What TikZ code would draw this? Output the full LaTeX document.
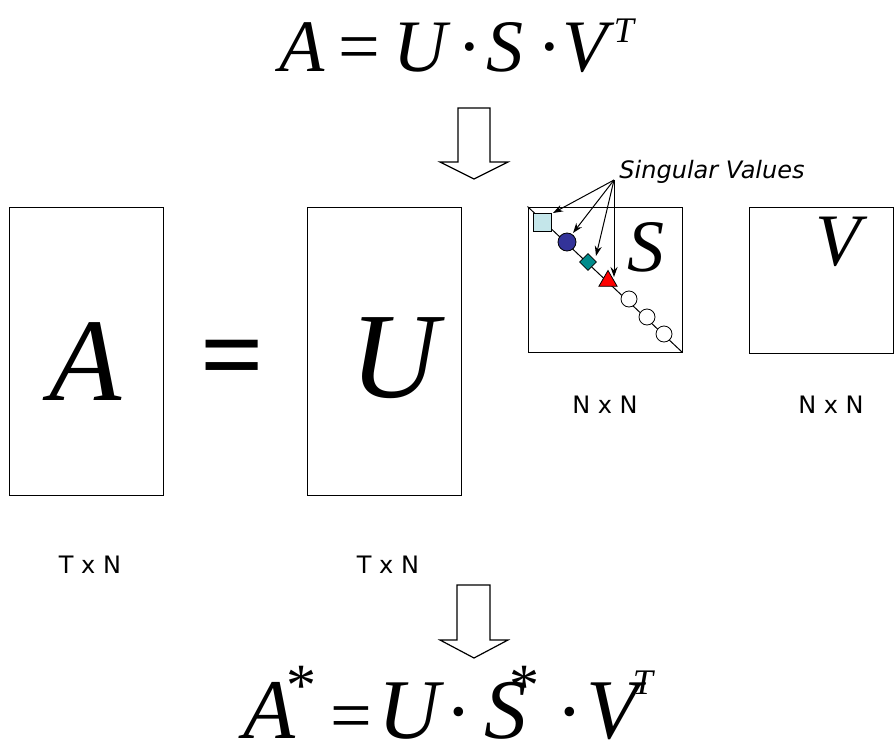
\documentclass[tikz,border=0pt]{standalone}
\usepackage{fontspec}
\setmainfont{Liberation Serif}
\newfontfamily\labelfont{DejaVu Sans}
\usetikzlibrary{shapes.geometric,arrows.meta}
\definecolor{sqcol}{HTML}{C4E6EA}
\definecolor{circcol}{HTML}{333399}
\definecolor{diacol}{HTML}{008B8B}
\newcommand\myfs[1]{\fontsize{#1}{#1}\selectfont}
\begin{document}
\begin{tikzpicture}[x=1pt,y=-1pt,
  gl/.style={inner sep=0pt, outer sep=0pt, anchor=base},
  mat/.style={draw, line width=1pt},
  hollow/.style={draw, line width=1.2pt, line join=miter, fill=white},
  dimlbl/.style={inner sep=0pt, anchor=base, font=\labelfont\myfs{24}},
  svarrow/.style={-{Stealth[length=10pt,width=7pt]}, line width=1pt},
  svmark/.style={draw, line width=0.8pt, inner sep=0pt}]
\useasboundingbox (0,0) rectangle (894,744);

% top equation
\node[gl] (tA)  at (302,71) {\myfs{74}\itshape A};
\node[gl] (teq) at (359,71) {\myfs{74}=};
\node[gl] (tU)  at (420,71) {\myfs{74}\itshape U};
\node[gl] (td1) at (470,71) {\myfs{74}·};
\node[gl] (tS)  at (505,71) {\myfs{74}\itshape S};
\node[gl] (td2) at (550,71) {\myfs{74}·};
\node[gl] (tV)  at (585,71) {\myfs{74}\itshape V};
\node[gl] (tT)  at (624,42) {\myfs{36}\itshape T};

% top hollow arrow
\draw[hollow] (458,108) -- (490,108) -- (490,162) -- (508,162) -- (474,179)
  -- (440,162) -- (458,162) -- cycle;

% matrices
\node[mat, minimum width=154pt, minimum height=288pt, inner sep=0pt] (Abox) at (86,351) {};
\node[mat, minimum width=154pt, minimum height=288pt, inner sep=0pt] (Ubox) at (384,351) {};
\node[mat, minimum width=154pt, minimum height=145pt, inner sep=0pt] (Sbox) at (605,279.5) {};
\node[mat, minimum width=144pt, minimum height=146pt, inner sep=0pt] (Vbox) at (821,280) {};

\node[gl] (bigA) at (86,400) {\myfs{118}\itshape A};
\node[gl] (bigeq) at (232,392) {\myfs{112}\bfseries =};
\node[gl] (bigU) at (395,397) {\myfs{122}\itshape U};
\node[gl] (bigS) at (646,271) {\myfs{74}\itshape S};
\node[gl] (bigV) at (838,265) {\myfs{74}\itshape V};

% diagonal of S
\draw[line width=1pt] (Sbox.north west) -- (Sbox.south east);
\node[svmark, circle, minimum size=16pt, fill=white] (z1) at (629,299) {};
\node[svmark, circle, minimum size=16pt, fill=white] (z2) at (647,317) {};
\node[svmark, circle, minimum size=16pt, fill=white] (z3) at (664,334) {};
\node[svmark, rectangle, minimum size=18pt, fill=sqcol] (sq) at (542,222) {};
\node[svmark, circle, minimum size=18pt, fill=circcol] (ci) at (567,242) {};
\node[svmark, diamond, minimum size=17pt, fill=diacol] (di) at (588,262) {};
\node[svmark, regular polygon, regular polygon sides=3, minimum size=21pt, fill=red] (tr) at (608,281) {};

% singular values label and arrows
\node[inner sep=0pt, anchor=base, font=\labelfont\myfs{24}\itshape] (sv) at (712,178) {Singular Values};
\coordinate (svo) at (614,180);
\coordinate (tsq) at (553,213);
\coordinate (tci) at (573,233);
\coordinate (tdi) at (596,256);
\coordinate (ttr) at (614,277);
\draw[svarrow] (svo) -- (tsq);
\draw[svarrow] (svo) -- (tci);
\draw[svarrow] (svo) -- (tdi);
\draw[svarrow] (svo) -- (ttr);

% dimension labels
\node[dimlbl] (lA) at (90,573) {T x N};
\node[dimlbl] (lU) at (388,573) {T x N};
\node[dimlbl] (lS) at (605,413) {N x N};
\node[dimlbl] (lV) at (831,413) {N x N};

% bottom hollow arrow
\draw[hollow] (457,585) -- (490,585) -- (490,640) -- (508,640) -- (474,658)
  -- (440,640) -- (457,640) -- cycle;

% bottom equation
\node[gl] (bA)  at (269,738) {\myfs{85}\itshape A};
\node[gl] (bas1) at (301,705) {\myfs{60}*};
\node[gl] (beq) at (351,740) {\myfs{74}=};
\node[gl] (bU)  at (409,738) {\myfs{85}\itshape U};
\node[gl] (bd1) at (459,738) {\myfs{80}·};
\node[gl] (bS)  at (506,738) {\myfs{85}\itshape S};
\node[gl] (bas2) at (524,705) {\myfs{60}*};
\node[gl] (bd2) at (570,738) {\myfs{80}·};
\node[gl] (bV)  at (612,738) {\myfs{85}\itshape V};
\node[gl] (bT)  at (643,694) {\myfs{36}\itshape T};
\end{tikzpicture}
\end{document}
